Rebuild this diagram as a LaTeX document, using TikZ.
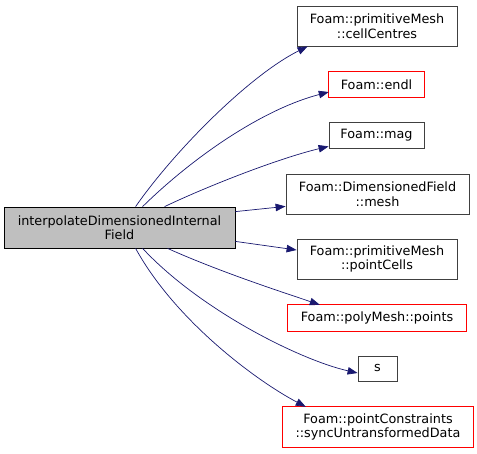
\documentclass[tikz,border=0pt]{standalone}
\usepackage{fontspec}
\setmainfont{DejaVu Sans}
\usetikzlibrary{arrows.meta}
\definecolor{edgeblue}{RGB}{25,25,112}
\definecolor{mainfill}{RGB}{191,191,191}
\definecolor{nodered}{RGB}{255,0,0}
\definecolor{nodegray}{RGB}{64,64,64}
\tikzset{
  box/.style={draw=nodegray, line width=0.8pt, fill=white, rectangle, inner sep=0pt, align=center, text=black, font=\fontsize{12.8}{14.5}\selectfont},
  redbox/.style={draw=none, fill=white, rectangle, inner sep=0pt, align=center, text=black, font=\fontsize{12.8}{14.5}\selectfont},
  redframe/.style={draw=nodered, line width=0.8pt},
  mainbox/.style={box, draw=black, fill=mainfill},
  call/.style={draw=edgeblue, line width=0.7pt, -{Stealth[length=10pt,width=7.5pt,inset=0pt]}},
}
\begin{document}
\begin{tikzpicture}[x=1pt,y=-1pt]
\useasboundingbox (0,0) rectangle (477,453);
\node[mainbox, minimum width=231pt, minimum height=41pt] (main) at (119.5,227.5) {interpolateDimensionedInternal\\Field};
\node[box, minimum width=160pt, minimum height=40pt] (cc) at (377,26) {Foam::primitiveMesh\\::cellCentres};
\node[redbox, minimum width=95pt, minimum height=25pt] (endl) at (376.5,84.5) {Foam::endl};
\node[box, minimum width=95pt, minimum height=26pt] (mag) at (376.5,135) {Foam::mag};
\node[box, minimum width=183pt, minimum height=40pt] (mesh) at (377.5,194) {Foam::DimensionedField\\::mesh};
\node[box, minimum width=160pt, minimum height=40pt] (pc) at (377,259) {Foam::primitiveMesh\\::pointCells};
\node[redbox, minimum width=178pt, minimum height=26pt] (pts) at (377,318) {Foam::polyMesh::points};
\node[box, minimum width=39pt, minimum height=25pt] (s) at (377.5,368.5) {s};
\node[redbox, minimum width=190pt, minimum height=40pt] (ptc) at (378,427) {Foam::pointConstraints\\::syncUntransformedData};
\draw[redframe] (endl.north west) rectangle (endl.south east);
\draw[redframe] (pts.north west) rectangle (pts.south east);
\draw[redframe] (ptc.north west) rectangle (ptc.south east);
\draw[call] ([xshift=132pt]main.north west) .. controls (175,150) and (250,75) .. ([xshift=11pt]cc.south west);
\draw[call] ([xshift=139pt]main.north west) .. controls (190,160) and (260,110) .. ([yshift=-7.5pt]endl.west);
\draw[call] ([xshift=161pt]main.north west) .. controls (210,185) and (280,158) .. ([yshift=2pt]mag.south west);
\draw[call] ([yshift=-5pt]main.north east) -- ([yshift=8pt]mesh.south west);
\draw[call] ([yshift=7pt]main.south east) -- ([yshift=9pt]pc.west);
\draw[call] ([xshift=164pt]main.south west) .. controls (220,272) and (285,293) .. ([xshift=32pt]pts.north west);
\draw[call] ([xshift=139pt]main.south west) .. controls (200,310) and (300,360) .. ([yshift=-4.5pt]s.west);
\draw[call] ([xshift=132pt]main.south west) .. controls (175,320) and (255,380) .. ([xshift=23pt]ptc.north west);
\end{tikzpicture}
\end{document}
